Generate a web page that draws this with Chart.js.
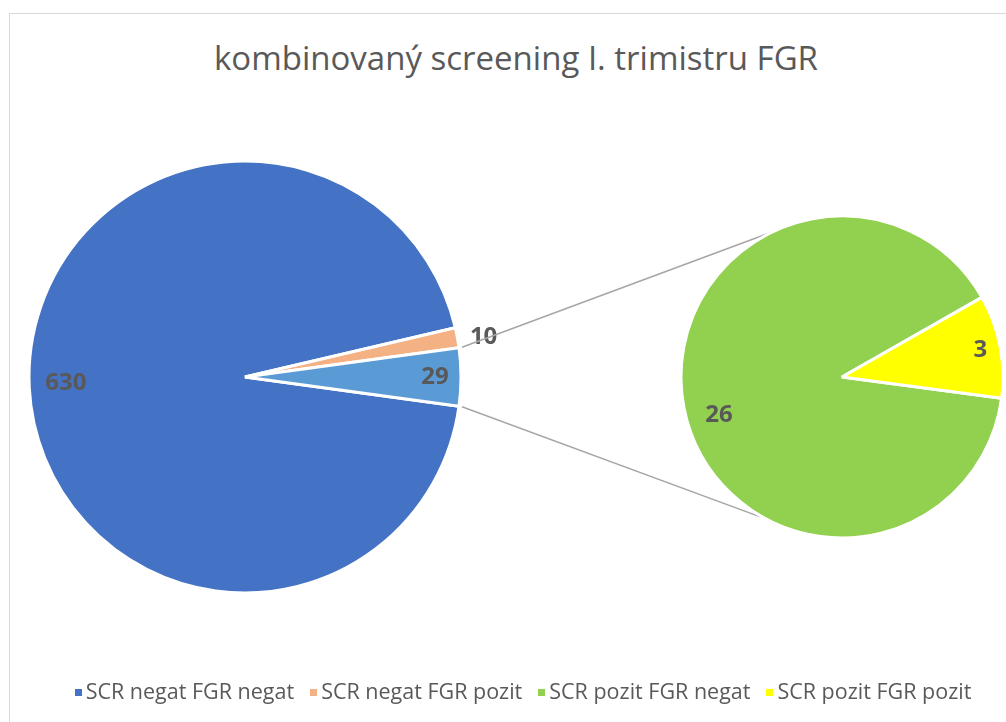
<!DOCTYPE html>
<html>
<head>
<meta charset="utf-8">
<script src="https://cdn.jsdelivr.net/npm/chart.js@4"></script>
<style>
  body { margin: 0; width: 1006px; height: 722px; overflow: hidden; background: #fff; font-family: "Open Sans", sans-serif; }
  #frame { position: absolute; left: 9px; top: 13px; width: 1100px; height: 800px; border: 1.5px solid #d9d9d9; }
  #title { position: absolute; left: 0; width: 1032px; top: 38px; line-height: 40px; text-align: center; font-size: 33px; color: #595959; white-space: nowrap; }
  canvas { position: absolute; left: 0; top: 0; }
  #legend { position: absolute; left: 0; width: 1046px; top: 678px; line-height: 26px; text-align: center; font-size: 21.5px; color: #595959; white-space: nowrap; }
  #legend span.item { margin: 0 8px; }
  #legend i { display: inline-block; width: 7px; height: 7px; margin-right: 4px; vertical-align: 3px; }
</style>
</head>
<body>
<div id="frame"></div>
<div id="title">kombinovaný screening I. trimistru FGR</div>
<canvas id="mainPie" width="1006" height="722"></canvas>
<canvas id="subPie" width="1006" height="722"></canvas>
<div id="legend"></div>
<script>
// Categories shown in the legend
const legendLabels = ['SCR negat FGR negat', 'SCR negat FGR pozit', 'SCR pozit FGR negat', 'SCR pozit FGR pozit'];
const legendColors = ['#4472C4', '#F4B183', '#92D050', '#FFFF00'];

// Main pie: the last slice is the sum of the secondary pie
const mainLabels = ['SCR negat FGR negat', 'SCR negat FGR pozit', 'SCR pozit'];
const mainValues = [630, 10, 29];
const mainColors = ['#4472C4', '#F4B183', '#5B9BD5'];

// Secondary pie
const subLabels = ['SCR pozit FGR negat', 'SCR pozit FGR pozit'];
const subValues = [26, 3];
const subColors = ['#92D050', '#FFFF00'];

// Build the legend
const legendEl = document.getElementById('legend');
legendLabels.forEach((text, i) => {
  const item = document.createElement('span');
  item.className = 'item';
  item.innerHTML = `<i style="background:${legendColors[i]}"></i>${text}`;
  legendEl.appendChild(item);
});

const deg = Math.PI / 180;

// Data labels drawn at a fraction of the radius along each slice's mid angle
const labelPlugin = {
  id: 'sliceLabels',
  afterDatasetsDraw(chart, args, opts) {
    const ctx = chart.ctx;
    const meta = chart.getDatasetMeta(0);
    ctx.save();
    ctx.font = 'bold 24px "Open Sans", sans-serif';
    ctx.fillStyle = '#595959';
    ctx.textAlign = 'center';
    ctx.textBaseline = 'middle';
    meta.data.forEach((arc, i) => {
      const mid = (arc.startAngle + arc.endAngle) / 2 + (opts.shift[i] || 0) * deg;
      const r = arc.outerRadius * opts.positions[i];
      ctx.fillText(chart.data.datasets[0].data[i], arc.x + Math.cos(mid) * r, arc.y + Math.sin(mid) * r);
    });
    ctx.restore();
  }
};

const mainChart = new Chart(document.getElementById('mainPie'), {
  type: 'pie',
  data: {
    labels: mainLabels,
    datasets: [{
      data: mainValues,
      backgroundColor: mainColors,
      borderColor: '#ffffff',
      borderWidth: 3,
      radius: 216
    }]
  },
  options: {
    responsive: false,
    animation: false,
    events: [],
    rotation: 97.8,
    layout: { padding: { left: 29, right: 545, top: 161, bottom: 129 } },
    plugins: {
      legend: { display: false },
      tooltip: { enabled: false },
      sliceLabels: { positions: [0.83, 1.12, 0.88], shift: [0.6, 1, 0] }
    }
  },
  plugins: [labelPlugin]
});

// Connector lines from the main pie's "other" slice to the secondary pie
const connectorPlugin = {
  id: 'connectors',
  beforeDatasetsDraw(chart) {
    const src = mainChart.getDatasetMeta(0).data[2];
    const dst = chart.getDatasetMeta(0).data[0];
    const ctx = chart.ctx;
    const ends = [[src.startAngle, -116 * deg], [src.endAngle, 118 * deg]];
    ctx.save();
    ctx.strokeStyle = '#A6A6A6';
    ctx.lineWidth = 1.5;
    ends.forEach(([a, b]) => {
      ctx.beginPath();
      ctx.moveTo(src.x + Math.cos(a) * (src.outerRadius + 3), src.y + Math.sin(a) * (src.outerRadius + 3));
      ctx.lineTo(dst.x + Math.cos(b) * dst.outerRadius, dst.y + Math.sin(b) * dst.outerRadius);
      ctx.stroke();
    });
    ctx.restore();
  }
};

new Chart(document.getElementById('subPie'), {
  type: 'pie',
  data: {
    labels: subLabels,
    datasets: [{
      data: subValues,
      backgroundColor: subColors,
      borderColor: '#ffffff',
      borderWidth: 3,
      radius: 161
    }]
  },
  options: {
    responsive: false,
    animation: false,
    events: [],
    rotation: 97.6,
    layout: { padding: { left: 681, right: 3, top: 216, bottom: 184 } },
    plugins: {
      legend: { display: false },
      tooltip: { enabled: false },
      sliceLabels: { positions: [0.8, 0.875], shift: [-6.3, 0] }
    }
  },
  plugins: [labelPlugin, connectorPlugin]
});
</script>
</body>
</html>
